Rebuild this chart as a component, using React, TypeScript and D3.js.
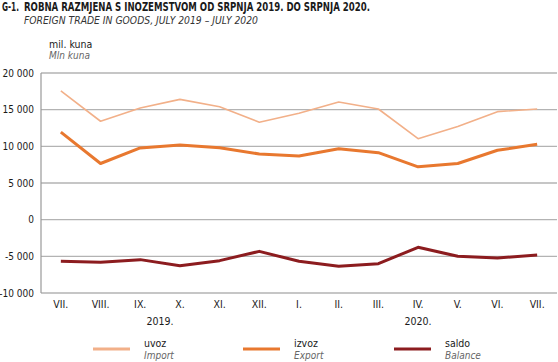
import React from "react";
import * as d3 from "d3";

const months = ["VII.", "VIII.", "IX.", "X.", "XI.", "XII.", "I.", "II.", "III.", "IV.", "V.", "VI.", "VII."];
const importValues = [17570, 13420, 15220, 16400, 15400, 13290, 14500, 16040, 15090, 11040, 12700, 14730, 15090];
const exportValues = [11940, 7660, 9780, 10180, 9820, 8960, 8690, 9680, 9140, 7210, 7660, 9460, 10270];
const balanceValues = [-5680, -5820, -5450, -6270, -5590, -4320, -5680, -6360, -6000, -3770, -5000, -5230, -4820];
const yTicks = [20000, 15000, 10000, 5000, 0, -5000, -10000];
const years = [
  { label: "2019.", between: [2, 3] },
  { label: "2020.", between: [9, 9] },
];

const series = [
  { name: "uvoz", en: "Import", values: importValues, color: "#f2b089", width: 1.6 },
  { name: "izvoz", en: "Export", values: exportValues, color: "#e8782f", width: 3 },
  { name: "saldo", en: "Balance", values: balanceValues, color: "#8c1c1f", width: 3 },
];

const FONT = "'DejaVu Sans Condensed', 'Liberation Sans Narrow', 'Roboto', sans-serif";

const fmt = (v: number) => {
  const s = Math.abs(v).toString().replace(/\B(?=(\d{3})+(?!\d))/g, " ");
  return (v < 0 ? "-" : "") + s;
};

export default function App() {
  const width = 558;
  const height = 362;
  const margin = { left: 41, right: 1, top: 73, bottom: 69 };

  const x = d3
    .scaleBand<number>()
    .domain(months.map((_, i) => i))
    .range([margin.left, width - margin.right]);
  const cx = (i: number) => (x(i) as number) + x.bandwidth() / 2;

  const y = d3
    .scaleLinear()
    .domain([-10000, 20000])
    .range([height - margin.bottom, margin.top]);

  const line = d3
    .line<number>()
    .x((_, i) => cx(i))
    .y((d) => y(d));

  const legendX = [93, 243, 394];

  return (
    <svg
      width={width}
      height={height}
      style={{ position: "absolute", left: 0, top: 0, background: "#fff" }}
      fontFamily={FONT}
    >
      {/* titles */}
      <text x={2} y={11} fontSize={11.5} fontWeight="bold" fill="#1a1a1a" textLength={17} lengthAdjust="spacingAndGlyphs">
        G-1.
      </text>
      <text
        x={24}
        y={11}
        fontSize={11.5}
        fontWeight="bold"
        fill="#1a1a1a"
        textLength={346}
        lengthAdjust="spacingAndGlyphs"
      >
        ROBNA RAZMJENA S INOZEMSTVOM OD SRPNJA 2019. DO SRPNJA 2020.
      </text>
      <text
        x={24}
        y={23.5}
        fontSize={11}
        fontStyle="italic"
        fill="#333"
        textLength={234}
        lengthAdjust="spacingAndGlyphs"
      >
        FOREIGN TRADE IN GOODS, JULY 2019 – JULY 2020
      </text>
      <text x={49} y={48} fontSize={10.5} fill="#1a1a1a">mil. kuna</text>
      <text x={49} y={59} fontSize={10} fontStyle="italic" fill="#666">Mln kuna</text>

      {/* grid */}
      {yTicks.map((t) => (
        <g key={t}>
          <line
            x1={margin.left}
            x2={width - margin.right}
            y1={y(t)}
            y2={y(t)}
            stroke="#b3b3b3"
            strokeWidth={1.3}
          />
          <text x={34} y={y(t)} dy="0.35em" textAnchor="end" fontSize={10} fill="#1a1a1a">
            {fmt(t)}
          </text>
        </g>
      ))}
      <line x1={margin.left} x2={margin.left} y1={y(20000)} y2={y(-10000)} stroke="#999" strokeWidth={1.2} />

      {/* x labels */}
      {months.map((m, i) => (
        <text key={i} x={cx(i)} y={308} textAnchor="middle" fontSize={10.5} fill="#1a1a1a">
          {m}
        </text>
      ))}
      {years.map((yr) => (
        <text
          key={yr.label}
          x={(cx(yr.between[0]) + cx(yr.between[1])) / 2}
          y={325}
          textAnchor="middle"
          fontSize={10.5}
          fill="#1a1a1a"
        >
          {yr.label}
        </text>
      ))}

      {/* series */}
      {series.map((s) => (
        <path
          key={s.name}
          d={line(s.values) || ""}
          fill="none"
          stroke={s.color}
          strokeWidth={s.width}
          strokeLinejoin="round"
        />
      ))}

      {/* legend */}
      {series.map((s, i) => (
        <g key={s.name} transform={`translate(${legendX[i]},0)`}>
          <line x1={0} x2={37} y1={349} y2={349} stroke={s.color} strokeWidth={3} />
          <text x={51} y={347} fontSize={10.5} fill="#1a1a1a">{s.name}</text>
          <text x={51} y={359} fontSize={10} fontStyle="italic" fill="#666">{s.en}</text>
        </g>
      ))}
    </svg>
  );
}
